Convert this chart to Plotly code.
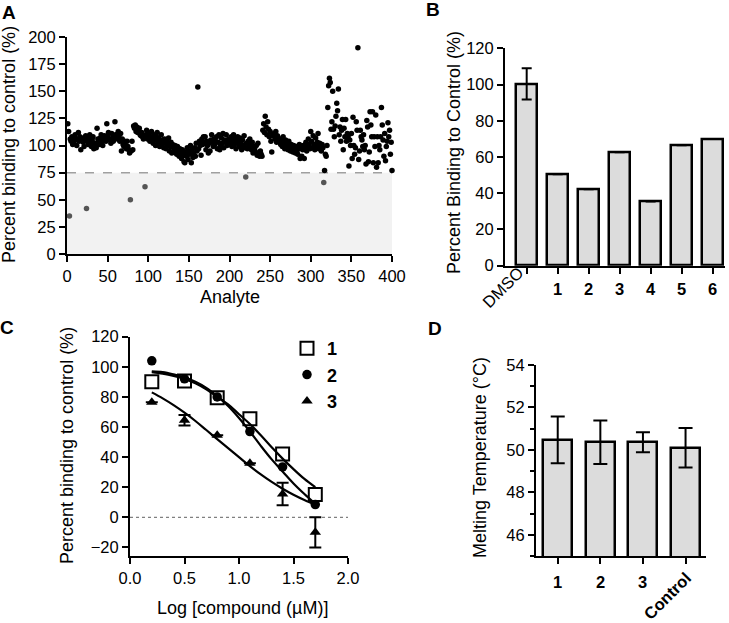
import plotly.graph_objects as go

W, H = 729, 623
FONT = "Liberation Sans, Arial, sans-serif"
TICK_SIZE = 16.5
TITLE_SIZE = 18

# ---------------- Panel A data ----------------
A_VALUES = [
    120, 113, 35, 106, 104, 108, 101, 103, 107, 110,
    105, 100, 106, 112, 104, 108, 96, 107, 105, 103,
    99, 106, 109, 42, 104, 101, 107, 110, 103, 99,
    105, 108, 97, 102, 100, 98, 116, 106, 104, 101,
    107, 110, 103, 100, 106, 109, 108, 104, 120, 109,
    112, 106, 105, 102, 111, 107, 104, 109, 122, 110,
    110, 106, 113, 108, 104, 111, 95, 106, 101, 99,
    104, 100, 97, 104, 99, 96, 93, 50, 95, 104,
    96, 118, 116, 119, 113, 117, 112, 114, 116, 110,
    109, 112, 108, 106, 109, 62, 110, 114, 106, 109,
    111, 104, 108, 113, 106, 102, 110, 105, 100, 108,
    112, 103, 107, 99, 104, 110, 101, 105, 98, 106,
    102, 97, 104, 100, 107, 95, 99, 103, 93, 101,
    98, 94, 100, 97, 92, 99, 95, 90, 97, 93,
    88, 96, 91, 85, 84, 94, 90, 98, 87, 95,
    92, 100, 84, 96, 89, 93, 98, 90, 102, 95,
    154, 97, 104, 100, 91, 106, 101, 108, 103, 108,
    96, 104, 100, 93, 102, 95, 105, 110, 103, 99,
    106, 101, 104, 108, 97, 103, 110, 96, 100, 107,
    102, 111, 98, 105, 103, 110, 100, 104, 106, 101,
    103, 108, 99, 105, 110, 101, 106, 97, 104, 108,
    102, 99, 107, 103, 96, 105, 100, 109, 98, 71,
    102, 97, 104, 99, 106, 101, 96, 103, 93, 99,
    97, 94, 100, 91, 102, 93, 90, 95, 92, 90,
    114, 120, 112, 127, 117, 110, 122, 115, 108, 113,
    104, 94, 109, 110, 111, 106, 113, 103, 109, 107,
    104, 105, 101, 106, 99, 108, 103, 97, 105, 100,
    102, 96, 104, 99, 95, 101, 97, 94, 100, 96,
    93, 99, 95, 92, 97, 101, 88, 98, 90, 96,
    100, 88, 97, 103, 95, 99, 106, 101, 97, 113,
    104, 98, 109, 101, 96, 107, 100, 103, 111, 97,
    102, 99, 95, 101, 98, 66, 77, 92, 90, 100,
    135, 155, 162, 158, 115, 122, 150, 115, 108, 118,
    127, 139, 132, 152, 110, 117, 104, 114, 124, 96,
    116, 108, 124, 104, 111, 108, 81, 105, 100, 111,
    88, 126, 100, 92, 98, 122, 114, 190, 87, 95,
    114, 108, 105, 99, 110, 96, 100, 83, 123, 117,
    85, 94, 131, 119, 108, 131, 84, 108, 99, 128,
    80, 108, 84, 100, 96, 108, 135, 119, 105, 90,
    111, 86, 99, 104, 121, 108, 114, 92, 103, 77,
]
A_ANALYTE = list(range(1, len(A_VALUES) + 1))
A_THRESHOLD = 75
A_XTICKS = [0, 50, 100, 150, 200, 250, 300, 350, 400]
A_YTICKS = [0, 25, 50, 75, 100, 125, 150, 175, 200]

# ---------------- Panel B data ----------------
B_LABELS = ["DMSO", "1", "2", "3", "4", "5", "6"]
B_VALUES = [100.4, 50.5, 42.2, 62.6, 35.4, 66.5, 70.0]
B_ERRORS = [8.6, 0, 0, 0, 0, 0, 0]

# ---------------- Panel C data ----------------
C_X = [0.2, 0.5, 0.8, 1.1, 1.4, 1.7]
C_S1 = [90, 90.5, 79.5, 65.5, 42, 15.2]
C_S2 = [104, 92, 80, 57, 33.5, 8.5]
C_S3 = [76.5, 64.5, 54.5, 36, 15.5, -10]
C_S3_ERR = [0, 3.5, 0, 0, 7.5, 10]
C_FIT_X = [0.2, 0.3, 0.4, 0.5, 0.6, 0.7, 0.8, 0.9, 1.0, 1.1, 1.2, 1.3, 1.4, 1.5, 1.6, 1.7]
C_FIT1 = [96.5, 95.5, 94, 92, 89, 85, 80, 75, 68.5, 62, 54.5, 46.5, 39, 32, 25.5, 20]
C_FIT2 = [97, 96.5, 95, 93, 90, 86, 80.5, 74, 66, 57, 47.5, 38.5, 30.5, 22.5, 15.5, 9]
C_FIT3 = [83, 79, 74.5, 69.5, 64, 58, 52, 46, 40, 34, 28.5, 23.5, 19, 15, 11.5, 8.5]
C_NAMES = ["1", "2", "3"]

# ---------------- Panel D data ----------------
D_LABELS = ["1", "2", "3", "Control"]
D_VALUES = [50.47, 50.36, 50.36, 50.1]
D_ERRORS = [1.1, 1.03, 0.47, 0.93]


def px_x(p):
    return p / W


def px_y(p):
    return 1 - p / H


fig = go.Figure()

# Panel A
a_black = [(x, v) for x, v in zip(A_ANALYTE, A_VALUES) if v >= A_THRESHOLD]
a_grey = [(x, v) for x, v in zip(A_ANALYTE, A_VALUES) if v < A_THRESHOLD]
fig.add_trace(go.Scatter(x=[p[0] for p in a_black], y=[p[1] for p in a_black], mode="markers",
                         marker=dict(color="black", size=5.5), xaxis="x", yaxis="y",
                         showlegend=False, cliponaxis=False))
fig.add_trace(go.Scatter(x=[p[0] for p in a_grey], y=[p[1] for p in a_grey], mode="markers",
                         marker=dict(color="#555555", size=5.5), xaxis="x", yaxis="y",
                         showlegend=False, cliponaxis=False))

# Panel B
fig.add_trace(go.Bar(x=list(range(len(B_LABELS))), y=B_VALUES, width=0.67,
                     marker=dict(color="#dcdcdc", line=dict(color="black", width=2.5)),
                     error_y=dict(type="data", array=B_ERRORS, color="black", thickness=2, width=5),
                     xaxis="x2", yaxis="y2", showlegend=False))

# Panel C fits
for fit in (C_FIT1, C_FIT2, C_FIT3):
    fig.add_trace(go.Scatter(x=C_FIT_X, y=fit, mode="lines", line=dict(color="black", width=2.2, shape="spline"),
                             xaxis="x3", yaxis="y3", showlegend=False, hoverinfo="skip"))
fig.add_trace(go.Scatter(x=C_X, y=C_S1, mode="markers", name="<b>" + C_NAMES[0] + "</b>",
                         marker=dict(symbol="square-open", size=13, color="black", line=dict(width=2)),
                         xaxis="x3", yaxis="y3", cliponaxis=False))
fig.add_trace(go.Scatter(x=C_X, y=C_S2, mode="markers", name="<b>" + C_NAMES[1] + "</b>",
                         marker=dict(symbol="circle", size=9.5, color="black"),
                         xaxis="x3", yaxis="y3", cliponaxis=False))
fig.add_trace(go.Scatter(x=C_X, y=C_S3, mode="markers", name="<b>" + C_NAMES[2] + "</b>",
                         marker=dict(symbol="triangle-up", size=10, color="black"),
                         error_y=dict(type="data", array=C_S3_ERR, color="black", thickness=2, width=6),
                         xaxis="x3", yaxis="y3", cliponaxis=False))

# Panel D
fig.add_trace(go.Bar(x=list(range(len(D_LABELS))), y=D_VALUES, width=0.68,
                     marker=dict(color="#dcdcdc", line=dict(color="black", width=2.5)),
                     error_y=dict(type="data", array=D_ERRORS, color="black", thickness=2, width=7),
                     xaxis="x4", yaxis="y4", showlegend=False))

axis_common = dict(showline=True, linecolor="black", linewidth=2, ticks="outside", ticklen=6,
                   tickwidth=2, tickcolor="black", showgrid=False, zeroline=False, automargin=False,
                   tickfont=dict(family=FONT, size=TICK_SIZE, color="black"))

fig.update_layout(
    template="none",
    width=W, height=H, margin=dict(l=0, r=0, t=0, b=0, pad=0, autoexpand=False),
    paper_bgcolor="white", plot_bgcolor="white",
    font=dict(family=FONT, size=TICK_SIZE, color="black"),
    xaxis=dict(domain=[px_x(67), px_x(392)], range=[0, 400], tickvals=A_XTICKS, anchor="y", **axis_common),
    yaxis=dict(domain=[px_y(254), px_y(37)], range=[0, 200], tickvals=A_YTICKS, anchor="x", **axis_common),
    xaxis2=dict(domain=[px_x(505), px_x(725)], range=[-0.7, 6.4], tickvals=list(range(len(B_LABELS))),
                showticklabels=False, anchor="y2", **axis_common),
    yaxis2=dict(domain=[px_y(265.7), px_y(48.3)], range=[0, 120], dtick=20, anchor="x2", **axis_common),
    xaxis3=dict(domain=[px_x(130), px_x(348)], range=[0, 2], tickvals=[0, 0.5, 1.0, 1.5, 2.0],
                ticktext=["0.0", "0.5", "1.0", "1.5", "2.0"], anchor="y3", **axis_common),
    yaxis3=dict(domain=[px_y(556), px_y(336.7)], range=[-25.7, 120], tickvals=[-20, 0, 20, 40, 60, 80, 100, 120],
                anchor="x3", **axis_common),
    xaxis4=dict(domain=[px_x(536), px_x(706)], range=[-0.51, 3.48], tickvals=list(range(len(D_LABELS))),
                showticklabels=False, anchor="y4", **axis_common),
    yaxis4=dict(domain=[px_y(556), px_y(365)], range=[45, 54], tickvals=[46, 48, 50, 52, 54], anchor="x4",
                minor=dict(dtick=1, tick0=45, ticks="outside", ticklen=4, tickwidth=2, tickcolor="black"),
                **axis_common),
    legend=dict(x=px_x(287), y=px_y(330), xanchor="left", yanchor="top", bgcolor="rgba(0,0,0,0)",
                font=dict(family=FONT, size=18, color="black"), tracegroupgap=0, itemsizing="trace"),
    bargap=0,
)

# Panel A threshold shading and dashed line
fig.add_shape(type="rect", xref="x", yref="y", x0=A_XTICKS[0], x1=A_XTICKS[-1], y0=0, y1=A_THRESHOLD,
              fillcolor="#f2f2f2", line=dict(width=0), layer="below")
fig.add_shape(type="line", xref="x", yref="y", x0=A_XTICKS[0], x1=A_XTICKS[-1], y0=A_THRESHOLD, y1=A_THRESHOLD,
              line=dict(color="#a0a0a0", width=1.5, dash="dash"), layer="below")
# Panel C zero line
fig.add_shape(type="line", xref="x3", yref="y3", x0=0, x1=2, y0=0, y1=0,
              line=dict(color="#808080", width=1.2, dash="dot"), layer="below")

ann = []


def text(x, y, s, size=TITLE_SIZE, bold=False, angle=0, xref="paper", yref="paper", xanchor="center",
         yanchor="middle"):
    ann.append(dict(x=x, y=y, xref=xref, yref=yref, text=("<b>%s</b>" % s) if bold else s, showarrow=False,
                    textangle=angle, xanchor=xanchor, yanchor=yanchor,
                    font=dict(family=FONT, size=size, color="black")))


# Panel letters
text(px_x(8.5), px_y(12.5), "A", size=19, bold=True)
text(px_x(433), px_y(9), "B", size=19, bold=True)
text(px_x(7), px_y(327), "C", size=19, bold=True)
text(px_x(435), px_y(328), "D", size=19, bold=True)

# Axis titles
text(px_x(9), px_y(145), "Percent binding to control (%)", angle=-90)
text(px_x(229.5), px_y(297), "Analyte")
text(px_x(454), px_y(153), "Percent Binding to Control (%)", angle=-90)
text(px_x(67), px_y(446), "Percent binding to control (%)", angle=-90)
text(px_x(242), px_y(608), "Log [compound (µM)]")
text(px_x(480), px_y(458), "Melting Temperature (°C)", angle=-90)

# Panel B category labels
for i, lab in enumerate(B_LABELS):
    if lab == "DMSO":
        text(px_x(503), px_y(287), lab, size=TICK_SIZE, angle=-45)
    else:
        text(i, px_y(289), lab, size=TICK_SIZE, bold=True, xref="x2")

# Panel D category labels
for i, lab in enumerate(D_LABELS):
    if lab == "Control":
        text(px_x(667), px_y(596), lab, size=TICK_SIZE, bold=True, angle=-45)
    else:
        text(i, px_y(582), lab, size=TICK_SIZE, bold=True, xref="x4")

fig.update_layout(annotations=ann)

fig.write_html("out.html", config={"displayModeBar": False},
               post_script="document.body.style.margin='0px';document.body.style.padding='0px';")
